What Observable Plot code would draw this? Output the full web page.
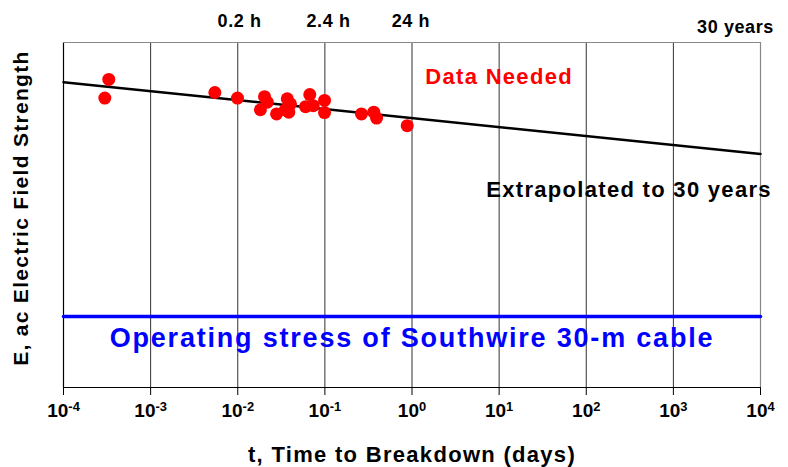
<!DOCTYPE html>
<html><head><meta charset="utf-8">
<script src="https://cdn.jsdelivr.net/npm/d3@7"></script>
<script src="https://cdn.jsdelivr.net/npm/@observablehq/plot@0.6"></script>
<style>
body{margin:0;background:#fff;}
#chart svg{display:block;}
</style></head><body><div id="chart"></div>
<script>
// Measured breakdown points: time (days) and relative ac field strength
const pointT = [3.31e-4, 2.98e-4, 5.46e-3, 9.93e-3, 0.0203, 0.0218, 0.0182, 0.0279, 0.037, 0.0403, 0.0385, 0.0351, 0.0671, 0.060, 0.0735, 0.0991, 0.0991, 0.263, 0.364, 0.392, 0.881];
const pointE = [89.3, 83.9, 85.5, 83.9, 84.3, 82.7, 80.5, 79.3, 83.7, 82.2, 79.8, 80.5, 84.9, 81.4, 81.7, 83.2, 79.7, 79.3, 79.8, 78.1, 75.9];
// Fitted / extrapolated line
const fitT = [1e-4, 1e4];
const fitE = [88.5, 67.7];
// Operating stress level
const operatingT = [1e-4, 1e4];
const operatingE = [20.6, 20.6];
// Axis ticks
const decades = [1e-4, 1e-3, 1e-2, 1e-1, 1e0, 1e1, 1e2, 1e3, 1e4];
const tickExponents = ["-4", "-3", "-2", "-1", "0", "1", "2", "3", "4"];
// Top time markers
const topLabels = ["0.2 h", "2.4 h", "24 h"];
const topT = [0.0105, 0.11, 0.97];
const topE = [106.3, 106.3, 106.3];
const endLabel = ["30 years"];
const endT = [30 * 365];
const endE = [104.3];
// Annotations
const noteText = ["Data Needed", "Extrapolated to 30 years"];
const noteT = [10, 310];
const noteE = [89.9, 57.4];
const operatingLabel = ["Operating stress of Southwire 30-m cable"];
const operatingLabelT = [1];
const operatingLabelE = [14.2];
const yLabel = "E, ac Electric Field Strength";
const xLabel = "t, Time to Breakdown (days)";

const idx = a => a.map((_, i) => i);
const FONT = "Liberation Sans, Arial, Helvetica, sans-serif";
const expOf = d => tickExponents[decades.indexOf(d)] ?? String(Math.round(Math.log10(d)));

const chart = Plot.plot({
  width: 788,
  height: 467,
  marginLeft: 63,
  marginRight: 28,
  marginTop: 42,
  marginBottom: 80,
  style: {fontFamily: FONT, fontWeight: "bold", background: "#fff", color: "#000"},
  x: {type: "log", domain: [1e-4, 1e4]},
  y: {domain: [0, 100]},
  marks: [
    // vertical grid
    Plot.ruleX(decades.slice(1, -1), {stroke: "#333", strokeWidth: 1}),
    Plot.ruleX([1e4], {stroke: "#888", strokeWidth: 1.2}),
    Plot.ruleX([1e-4], {stroke: "#000", strokeWidth: 1.2}),
    Plot.ruleY([100], {stroke: "#888", strokeWidth: 1.2}),
    Plot.ruleY([0], {stroke: "#000", strokeWidth: 1.2}),
    Plot.axisX({ticks: decades, tickFormat: expOf, tickSize: 8, tickPadding: 8, fontSize: 19, label: null, stroke: "#000"}),
    Plot.axisY({ticks: [], label: null}),
    // operating stress
    Plot.line(idx(operatingT), {x: i => operatingT[i], y: i => operatingE[i], stroke: "#0000ff", strokeWidth: 3.5}),
    Plot.text(operatingLabel, {x: operatingLabelT, y: operatingLabelE, fill: "#0000ff", fontSize: 27, fontWeight: "bold"}),
    // fitted line
    Plot.line(idx(fitT), {x: i => fitT[i], y: i => fitE[i], stroke: "#000", strokeWidth: 2.5}),
    // data points
    Plot.dot(idx(pointT), {x: i => pointT[i], y: i => pointE[i], r: 6.5, fill: "#ff0000", stroke: null}),
    // annotations
    Plot.text([noteText[0]], {x: [noteT[0]], y: [noteE[0]], fill: "#ff0000", fontSize: 22, fontWeight: "bold"}),
    Plot.text([noteText[1]], {x: [noteT[1]], y: [noteE[1]], fill: "#000", fontSize: 22, fontWeight: "bold"}),
    Plot.text(topLabels, {x: topT, y: topE, fill: "#000", fontSize: 18, fontWeight: "bold"}),
    Plot.text(endLabel, {x: endT, y: endE, fill: "#000", fontSize: 18, fontWeight: "bold", textAnchor: "end", dx: 10}),
    Plot.text([yLabel], {frameAnchor: "left", y: [52], rotate: -90, textAnchor: "middle", dx: -42, fill: "#000", fontSize: 21, fontWeight: "bold"}),
    Plot.text([xLabel], {frameAnchor: "bottom", dy: 74, fill: "#000", fontSize: 22, fontWeight: "bold"})
  ]
});

const svg = d3.select(chart);
// widen letter spacing to match the reference's rendering
svg.selectAll('g[aria-label="text"]').each(function() {
  const fs = parseFloat(this.getAttribute("font-size")) || 18;
  const ls = fs >= 27 ? 1.8 : fs >= 21 ? 1.3 : 0.6;
  this.setAttribute("letter-spacing", ls);
});
// superscript exponents on the x tick labels
svg.selectAll('g[aria-label="x-axis tick label"] text').each(function() {
  const exp = this.textContent;
  const t = d3.select(this);
  t.text("10");
  t.append("tspan").attr("dy", "-0.5em").attr("font-size", "0.68em").text(exp);
});

document.getElementById("chart").appendChild(chart);
</script>
</body></html>
